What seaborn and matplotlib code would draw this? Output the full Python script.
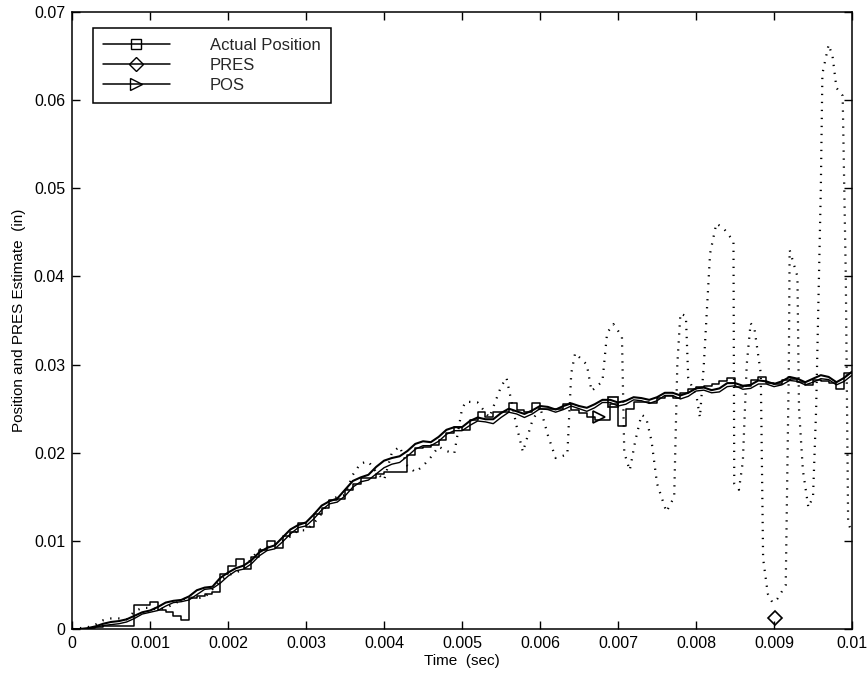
import numpy as np
import pandas as pd
import matplotlib
matplotlib.use("Agg")
import matplotlib.pyplot as plt
from matplotlib.lines import Line2D
import seaborn as sns

# ---------------- data ----------------
t_grid = [round(i * 0.0001, 4) for i in range(101)]

actual_position = [
    0.0000, 0.0000, 0.0001, 0.0003, 0.0006, 0.0008, 0.0009, 0.0011, 0.0015, 0.0019,
    0.0021, 0.0025, 0.0030, 0.0032, 0.0033, 0.0037, 0.0044, 0.0047, 0.0048, 0.0058,
    0.0064, 0.0069, 0.0072, 0.0078, 0.0087, 0.0092, 0.0095, 0.0104, 0.0113, 0.0118,
    0.0121, 0.0130, 0.0140, 0.0145, 0.0148, 0.0158, 0.0168, 0.0172, 0.0175, 0.0184,
    0.0191, 0.0194, 0.0196, 0.0202, 0.0210, 0.0213, 0.0212, 0.0218, 0.0226, 0.0229,
    0.0229, 0.0236, 0.0240, 0.0238, 0.0238, 0.0245, 0.0250, 0.0247, 0.0244, 0.0248,
    0.0253, 0.0252, 0.0249, 0.0253, 0.0256, 0.0253, 0.0251, 0.0255, 0.0260, 0.0260,
    0.0257, 0.0259, 0.0263, 0.0262, 0.0260, 0.0263, 0.0268, 0.0268, 0.0265, 0.0268,
    0.0273, 0.0274, 0.0271, 0.0273, 0.0279, 0.0279, 0.0276, 0.0277, 0.0282, 0.0281,
    0.0278, 0.0281, 0.0286, 0.0284, 0.0280, 0.0284, 0.0288, 0.0286, 0.0280, 0.0285,
    0.0292]

filtered_position = [
    0.0000, 0.0000, 0.0000, 0.0002, 0.0004, 0.0005, 0.0006, 0.0008, 0.0012, 0.0017,
    0.0019, 0.0021, 0.0026, 0.0030, 0.0031, 0.0033, 0.0039, 0.0045, 0.0046, 0.0052,
    0.0060, 0.0066, 0.0068, 0.0074, 0.0083, 0.0089, 0.0091, 0.0099, 0.0108, 0.0115,
    0.0117, 0.0125, 0.0135, 0.0142, 0.0144, 0.0151, 0.0161, 0.0167, 0.0169, 0.0176,
    0.0183, 0.0187, 0.0189, 0.0196, 0.0204, 0.0208, 0.0208, 0.0213, 0.0221, 0.0225,
    0.0225, 0.0231, 0.0236, 0.0235, 0.0233, 0.0240, 0.0246, 0.0244, 0.0240, 0.0244,
    0.0250, 0.0249, 0.0246, 0.0249, 0.0253, 0.0250, 0.0247, 0.0251, 0.0257, 0.0257,
    0.0253, 0.0255, 0.0260, 0.0259, 0.0256, 0.0259, 0.0265, 0.0265, 0.0261, 0.0264,
    0.0270, 0.0271, 0.0268, 0.0269, 0.0275, 0.0276, 0.0272, 0.0273, 0.0278, 0.0278,
    0.0275, 0.0277, 0.0282, 0.0281, 0.0277, 0.0280, 0.0284, 0.0283, 0.0277, 0.0281,
    0.0288]

pos_steps = [
    0.0000, 0.0000, 0.0001, 0.0002, 0.0003, 0.0003, 0.0003, 0.0003, 0.0027, 0.0027,
    0.0031, 0.0022, 0.0019, 0.0015, 0.0010, 0.0035, 0.0038, 0.0040, 0.0042, 0.0062,
    0.0072, 0.0080, 0.0068, 0.0082, 0.0090, 0.0100, 0.0092, 0.0105, 0.0110, 0.0120,
    0.0116, 0.0131, 0.0137, 0.0146, 0.0148, 0.0158, 0.0165, 0.0171, 0.0171, 0.0176,
    0.0178, 0.0178, 0.0178, 0.0197, 0.0205, 0.0207, 0.0209, 0.0215, 0.0222, 0.0229,
    0.0226, 0.0237, 0.0246, 0.0240, 0.0246, 0.0246, 0.0256, 0.0248, 0.0246, 0.0256,
    0.0250, 0.0250, 0.0250, 0.0255, 0.0248, 0.0245, 0.0240, 0.0237, 0.0237, 0.0255,
    0.0230, 0.0250, 0.0258, 0.0258, 0.0256, 0.0262, 0.0264, 0.0262, 0.0268, 0.0272,
    0.0275, 0.0276, 0.0278, 0.0281, 0.0285, 0.0275, 0.0276, 0.0282, 0.0286, 0.0279,
    0.0278, 0.0282, 0.0284, 0.0280, 0.0277, 0.0283, 0.0281, 0.0279, 0.0272, 0.0290,
    0.0290]

pres_t = [
    0.0000, 0.0001, 0.0002, 0.0003, 0.0004, 0.0005, 0.0006, 0.0007, 0.0008, 0.0009,
    0.0010, 0.0011, 0.0012, 0.0013, 0.0014, 0.0015, 0.0016, 0.0017, 0.0018, 0.0019,
    0.0020, 0.0021, 0.0022, 0.0023, 0.0024, 0.0025, 0.0026, 0.0027, 0.0028, 0.0029,
    0.0030, 0.0031, 0.0032, 0.0033, 0.0034, 0.0035, 0.0036, 0.0037, 0.0038, 0.0039,
    0.0040, 0.0041, 0.0042, 0.0043, 0.0044, 0.0045, 0.0046, 0.0047, 0.0048, 0.0049,
    0.0050, 0.00505, 0.0052, 0.00535, 0.0055, 0.00557, 0.0057, 0.00578, 0.0059, 0.0060,
    0.0061, 0.0062, 0.00635, 0.0064, 0.00645, 0.0066, 0.00666, 0.0068, 0.00686, 0.00694,
    0.00705, 0.00708, 0.00715, 0.00722, 0.0073, 0.00736, 0.00743, 0.0075, 0.00762, 0.00772,
    0.00776, 0.0078, 0.00787, 0.0079, 0.00801, 0.00805, 0.0081, 0.00818, 0.00826, 0.00835,
    0.00848, 0.00849, 0.00855, 0.0086, 0.00865, 0.0087, 0.00875, 0.00883, 0.00886, 0.00892,
    0.00898, 0.00905, 0.00915, 0.00919, 0.0092, 0.0093, 0.00932, 0.00937, 0.00944, 0.0095,
    0.00954, 0.0096, 0.00962, 0.0097, 0.00975, 0.0098, 0.00988, 0.00992, 0.00995, 0.0100]

pres_v = [
    0.0000, 0.0001, 0.0002, 0.0005, 0.0010, 0.0012, 0.0012, 0.0011, 0.0020, 0.0024,
    0.0024, 0.0022, 0.0024, 0.0028, 0.0033, 0.0036, 0.0035, 0.0036, 0.0045, 0.0055,
    0.0061, 0.0064, 0.0068, 0.0080, 0.0090, 0.0093, 0.0096, 0.0100, 0.0105, 0.0112,
    0.0112, 0.0120, 0.0131, 0.0146, 0.0150, 0.0152, 0.0175, 0.0188, 0.0190, 0.0178,
    0.0169, 0.0200, 0.0207, 0.0185, 0.0178, 0.0185, 0.0195, 0.0207, 0.0202, 0.0199,
    0.0250, 0.0258, 0.0257, 0.0240, 0.0275, 0.0285, 0.0230, 0.0201, 0.0236, 0.0252,
    0.0220, 0.0194, 0.0198, 0.0290, 0.0313, 0.0300, 0.0270, 0.0281, 0.0336, 0.0346,
    0.0332, 0.0200, 0.0180, 0.0213, 0.0243, 0.0240, 0.0213, 0.0165, 0.0133, 0.0150,
    0.0300, 0.0358, 0.0355, 0.0285, 0.0262, 0.0240, 0.0300, 0.0426, 0.0460, 0.0455,
    0.0440, 0.0165, 0.0158, 0.0190, 0.0300, 0.0347, 0.0340, 0.0290, 0.0080, 0.0040,
    0.0030, 0.0035, 0.0050, 0.0300, 0.0430, 0.0400, 0.0250, 0.0180, 0.0138, 0.0150,
    0.0250, 0.0500, 0.0630, 0.0663, 0.0650, 0.0614, 0.0605, 0.0400, 0.0120, 0.0110]

# legend marker points (single symbols as in the reference)
actual_marker = (0.00693, 0.0257)
pres_marker = (0.00901, 0.0012)
pos_marker = (0.00675, 0.0240)

x_ticks = [0, 0.001, 0.002, 0.003, 0.004, 0.005, 0.006, 0.007, 0.008, 0.009, 0.01]
x_tick_labels = ["0", "0.001", "0.002", "0.003", "0.004", "0.005", "0.006",
                 "0.007", "0.008", "0.009", "0.01"]
y_ticks = [0, 0.01, 0.02, 0.03, 0.04, 0.05, 0.06, 0.07]
y_tick_labels = ["0", "0.01", "0.02", "0.03", "0.04", "0.05", "0.06", "0.07"]

# ---------------- figure ----------------
sns.set_theme(style="white")
plt.rcParams["font.family"] = ["Liberation Sans", "DejaVu Sans"]

fig = plt.figure(figsize=(8.68, 6.79), dpi=100)
ax = fig.add_axes([0.083, 0.0736, 0.8986, 0.9087])

df_a = pd.DataFrame({"t": t_grid, "v": actual_position})
df_f = pd.DataFrame({"t": t_grid, "v": filtered_position})
df_s = pd.DataFrame({"t": t_grid, "v": pos_steps})
df_p = pd.DataFrame({"t": pres_t, "v": pres_v})

sns.lineplot(data=df_p, x="t", y="v", ax=ax, color="black", linewidth=1.6,
             estimator=None, sort=False, linestyle=(0, (0.6, 3.0)))
sns.lineplot(data=df_f, x="t", y="v", ax=ax, color="black", linewidth=1.0,
             estimator=None, sort=False)
sns.lineplot(data=df_s, x="t", y="v", ax=ax, color="black", linewidth=1.1,
             estimator=None, sort=False, drawstyle="steps-post")
sns.lineplot(data=df_a, x="t", y="v", ax=ax, color="black", linewidth=1.5,
             estimator=None, sort=False)

ax.plot([actual_marker[0]], [actual_marker[1]], marker="s", markersize=7,
        markerfacecolor="none", markeredgecolor="black", markeredgewidth=1.2, linestyle="none")
ax.plot([pres_marker[0]], [pres_marker[1]], marker="D", markersize=7,
        markerfacecolor="none", markeredgecolor="black", markeredgewidth=1.2, linestyle="none")
ax.plot([pos_marker[0]], [pos_marker[1]], marker=">", markersize=9,
        markerfacecolor="none", markeredgecolor="black", markeredgewidth=1.2, linestyle="none")

ax.set_xlim(0, 0.01)
ax.set_ylim(0, 0.07)
ax.set_xticks(x_ticks)
ax.set_xticklabels(x_tick_labels)
ax.set_yticks(y_ticks)
ax.set_yticklabels(y_tick_labels)
ax.tick_params(axis="both", direction="in", length=6, width=1, color="black",
               labelsize=11.5, labelcolor="black", top=True, right=True,
               bottom=True, left=True, pad=5)
for sp in ax.spines.values():
    sp.set_visible(True)
    sp.set_color("black")
    sp.set_linewidth(1.1)
ax.set_facecolor("white")
ax.grid(False)

ax.set_xlabel("Time  (sec)", fontsize=11, color="black", labelpad=2)
ax.set_ylabel("Position and PRES Estimate  (in)", fontsize=11, color="black", labelpad=6)

handles = [
    Line2D([0], [0], color="black", linewidth=1.1, marker="s", markersize=7,
           markerfacecolor="none", markeredgecolor="black"),
    Line2D([0], [0], color="black", linewidth=1.1, marker="D", markersize=7,
           markerfacecolor="none", markeredgecolor="black"),
    Line2D([0], [0], color="black", linewidth=1.1, marker=">", markersize=9,
           markerfacecolor="none", markeredgecolor="black"),
]
leg = ax.legend(handles, ["Actual Position", "PRES", "POS"], loc="upper left",
                bbox_to_anchor=(0.027, 0.974), fontsize=12, frameon=True,
                fancybox=False, handlelength=4.0, handletextpad=2.4,
                labelspacing=0.3, borderpad=0.6, borderaxespad=0.0,
                numpoints=1, edgecolor="black", framealpha=1)
leg.get_frame().set_linewidth(1.1)

fig.savefig("out.png", dpi=100, facecolor="white")
